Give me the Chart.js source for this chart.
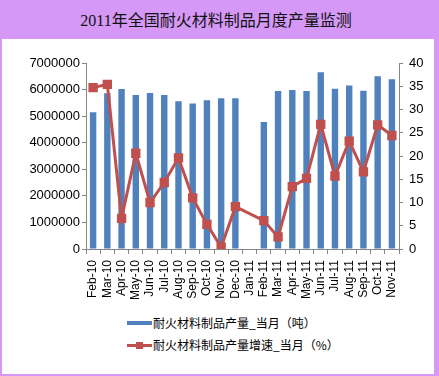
<!DOCTYPE html>
<html>
<head>
<meta charset="utf-8">
<script src="https://cdn.jsdelivr.net/npm/chart.js@4.4.1/dist/chart.umd.min.js"></script>
<style>
  html, body { margin: 0; padding: 0; }
  body { width: 439px; height: 376px; background: #d598f6; position: relative; overflow: hidden; font-family: "Liberation Sans", "Noto Sans CJK SC", sans-serif; }
  #title { position: absolute; left: 0; top: 11px; width: 432px; text-align: center; font-family: "Liberation Serif", "Noto Sans CJK SC", serif; font-size: 16px; color: #111; line-height: 20px; }
  #panel { position: absolute; left: 2px; top: 39px; width: 432px; height: 335px; background: #ffffff; }
  #wrap { position: absolute; left: 0; top: 0; width: 432px; height: 272px; }
  .leg { position: absolute; left: 125px; height: 16px; font-family: "Noto Sans CJK SC", sans-serif; font-size: 12px; color: #000; line-height: 16px; white-space: nowrap; }
  .sw { position: absolute; left: 0; top: 7px; width: 25px; }
  .txt { position: absolute; left: 26px; top: 0; }
</style>
</head>
<body>
<div id="title">2011年全国耐火材料制品月度产量监测</div>
<div id="panel">
  <div id="wrap"><canvas id="c"></canvas></div>
  <div class="leg" style="top:276px;"><div class="sw" style="height:4px;top:6px;background:#4f81bd;"></div><div class="txt">耐火材料制品产量_当月（吨）</div></div>
  <div class="leg" style="top:298px;"><div class="sw" style="height:3px;top:7px;background:#c0504d;"></div><div style="position:absolute;left:9px;top:5px;width:7px;height:7px;background:#c0504d;"></div><div class="txt">耐火材料制品产量增速_当月（%）</div></div>
</div>
<script>
const categories = ["Feb-10","Mar-10","Apr-10","May-10","Jun-10","Jul-10","Aug-10","Sep-10","Oct-10","Nov-10","Dec-10","Jan-11","Feb-11","Mar-11","Apr-11","May-11","Jun-11","Jul-11","Aug-11","Sep-11","Oct-11","Nov-11"];
const output = [5150000,5860000,6020000,5800000,5870000,5800000,5560000,5480000,5600000,5670000,5670000,null,4780000,5950000,5980000,5950000,6650000,6030000,6150000,5960000,6500000,6390000];
const growth = [34.7,35.4,6.6,20.6,10.0,14.3,19.6,11.0,5.3,0.4,9.1,null,6.1,2.6,13.4,15.2,26.8,15.7,23.2,16.6,26.7,24.4];
const seriesNames = ["耐火材料制品产量_当月（吨）","耐火材料制品产量增速_当月（%）"];

new Chart(document.getElementById('c'), {
  data: {
    labels: categories,
    datasets: [
      { type: 'line', label: seriesNames[1], data: growth, yAxisID: 'y1', borderColor: '#c0504d', backgroundColor: '#c0504d', borderWidth: 3, pointStyle: 'rect', pointRadius: 4.5, pointBorderColor: '#c0504d', pointBackgroundColor: '#c0504d', spanGaps: true, tension: 0, order: 0 },
      { type: 'bar', label: seriesNames[0], data: output, yAxisID: 'y', backgroundColor: '#4f81bd', borderWidth: 0, barPercentage: 0.45, categoryPercentage: 1, order: 1 }
    ]
  },
  options: {
    responsive: true, maintainAspectRatio: false, animation: false,
    layout: { padding: { top: 24, left: 0, right: 0, bottom: 0 } },
    plugins: { legend: { display: false }, tooltip: { enabled: false } },
    scales: {
      x: {
        offset: true,
        grid: { display: true, drawOnChartArea: false, drawTicks: true, tickLength: 5, offset: true, color: '#868686' },
        border: { color: '#868686' },
        ticks: { autoSkip: false, maxRotation: 90, minRotation: 90, padding: 6, color: '#000', font: { family: 'Liberation Sans', size: 12 } },
        afterFit: s => { s.height = 62; }
      },
      y: {
        position: 'left', min: 0, max: 7000000,
        grid: { display: true, drawOnChartArea: false, drawTicks: true, tickLength: 4, color: '#868686' },
        border: { color: '#868686' },
        ticks: { stepSize: 1000000, padding: 2, color: '#000', font: { family: 'Liberation Sans', size: 13 }, callback: v => String(v) },
        afterFit: s => { s.width = 84; }
      },
      y1: {
        position: 'right', min: 0, max: 40,
        grid: { display: true, drawOnChartArea: false, drawTicks: true, tickLength: 4, color: '#868686' },
        border: { color: '#868686' },
        ticks: { stepSize: 5, padding: 6, color: '#000', font: { family: 'Liberation Sans', size: 13 } },
        afterFit: s => { s.width = 35; }
      }
    }
  }
});
</script>
</body>
</html>
